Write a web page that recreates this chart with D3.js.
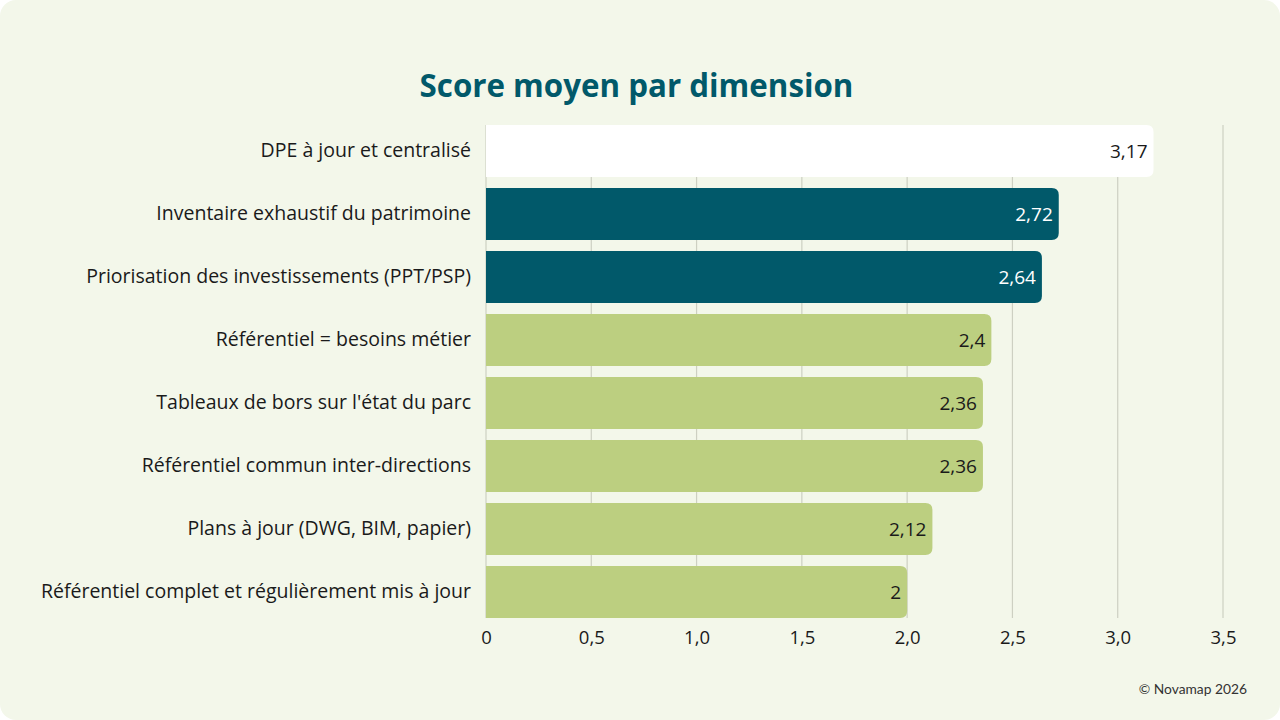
<!DOCTYPE html>
<html>
<head>
<meta charset="utf-8">
<script src="https://cdn.jsdelivr.net/npm/d3@7"></script>
<style>
  html, body { margin: 0; padding: 0; background: #ffffff; }
  svg { display: block; }
</style>
</head>
<body>
<svg id="chart" width="1280" height="720"></svg>
<script>
// --- données ---
const categories = [
  "DPE à jour et centralisé",
  "Inventaire exhaustif du patrimoine",
  "Priorisation des investissements (PPT/PSP)",
  "Référentiel = besoins métier",
  "Tableaux de bors sur l'état du parc",
  "Référentiel commun inter-directions",
  "Plans à jour (DWG, BIM, papier)",
  "Référentiel complet et régulièrement mis à jour"
];
const scores = [3.17, 2.72, 2.64, 2.4, 2.36, 2.36, 2.12, 2];
const groups = ["top", "mid", "mid", "low", "low", "low", "low", "low"];
const xTicks = [0, 0.5, 1, 1.5, 2, 2.5, 3, 3.5];
const xTickLabels = ["0", "0,5", "1,0", "1,5", "2,0", "2,5", "3,0", "3,5"];
const valueLabels = ["3,17", "2,72", "2,64", "2,4", "2,36", "2,36", "2,12", "2"];

const TEAL = "#01596a";
const fillByGroup = { top: "#ffffff", mid: TEAL, low: "#bccf80" };
const textByGroup = { top: "#1a1a1a", mid: "#ffffff", low: "#1a1a1a" };

const W = 1280, H = 720;
const margin = { left: 486, right: 57, top: 119.5, bottom: 96.5 };

const svg = d3.select("#chart");

// fond (carte arrondie)
svg.append("rect")
  .attr("x", 0).attr("y", 0)
  .attr("width", W).attr("height", H)
  .attr("rx", 16)
  .attr("fill", "#f3f7ea");

// titre
svg.append("text")
  .attr("x", 636.5).attr("y", 97)
  .attr("text-anchor", "middle")
  .attr("font-family", "'Open Sans', sans-serif")
  .attr("font-weight", 700)
  .attr("font-size", 31.3)
  .attr("fill", TEAL)
  .text("Score moyen par dimension");

const x = d3.scaleLinear()
  .domain([0, 3.5])
  .range([margin.left, W - margin.right]);

const y = d3.scaleBand()
  .domain(categories)
  .range([margin.top, H - margin.bottom])
  .paddingInner(0.175)
  .paddingOuter(0.0875);

// grille verticale
const gridTop = y(categories[0]);
const gridBottom = y(categories[categories.length - 1]) + y.bandwidth();

svg.append("g")
  .selectAll("line")
  .data(xTicks)
  .join("line")
  .attr("x1", d => x(d)).attr("x2", d => x(d))
  .attr("y1", gridTop).attr("y2", gridBottom)
  .attr("stroke", "#cdd0c2")
  .attr("stroke-width", 1.2);

// axe x (labels seulement)
const xAxis = d3.axisBottom(x)
  .tickValues(xTicks)
  .tickSize(0)
  .tickPadding(0)
  .tickFormat((d, i) => xTickLabels[i]);

const gx = svg.append("g")
  .attr("transform", `translate(0, ${gridBottom + 26})`)
  .call(xAxis);
gx.select(".domain").remove();
gx.selectAll("text")
  .attr("font-family", "'Open Sans', sans-serif")
  .attr("font-size", 18.5)
  .attr("fill", "#1a1a1a")
  .attr("dy", "0");

// barres: coins droits arrondis
function barPath(x0, x1, y0, h, r) {
  r = Math.min(r, (x1 - x0) / 2, h / 2);
  return `M${x0},${y0}` +
    `H${x1 - r}` +
    `Q${x1},${y0} ${x1},${y0 + r}` +
    `V${y0 + h - r}` +
    `Q${x1},${y0 + h} ${x1 - r},${y0 + h}` +
    `H${x0}Z`;
}

const rows = categories.map((c, i) => ({
  cat: c, v: scores[i], g: groups[i], lbl: valueLabels[i]
}));

svg.append("g")
  .selectAll("path")
  .data(rows)
  .join("path")
  .attr("d", d => barPath(x(0), x(d.v), y(d.cat), y.bandwidth(), 7))
  .attr("fill", d => fillByGroup[d.g]);

// valeurs dans les barres
svg.append("g")
  .selectAll("text")
  .data(rows)
  .join("text")
  .attr("x", d => x(d.v) - 6)
  .attr("y", d => y(d.cat) + y.bandwidth() / 2)
  .attr("dy", "0.35em")
  .attr("text-anchor", "end")
  .attr("font-family", "'Open Sans', sans-serif")
  .attr("font-size", 19)
  .attr("fill", d => textByGroup[d.g])
  .text(d => d.lbl);

// libellés des catégories
const yAxis = d3.axisLeft(y).tickSize(0).tickPadding(15);
const gy = svg.append("g")
  .attr("transform", `translate(${margin.left}, 0)`)
  .call(yAxis);
gy.select(".domain").remove();
gy.selectAll("text")
  .attr("font-family", "'Open Sans', sans-serif")
  .attr("font-size", 19.5)
  .attr("fill", "#1a1a1a");

// pied de page
svg.append("text")
  .attr("x", 1247).attr("y", 694)
  .attr("text-anchor", "end")
  .attr("font-family", "Lato, sans-serif")
  .attr("font-size", 13.8)
  .attr("fill", "#333333")
  .text("© Novamap 2026");
</script>
</body>
</html>
